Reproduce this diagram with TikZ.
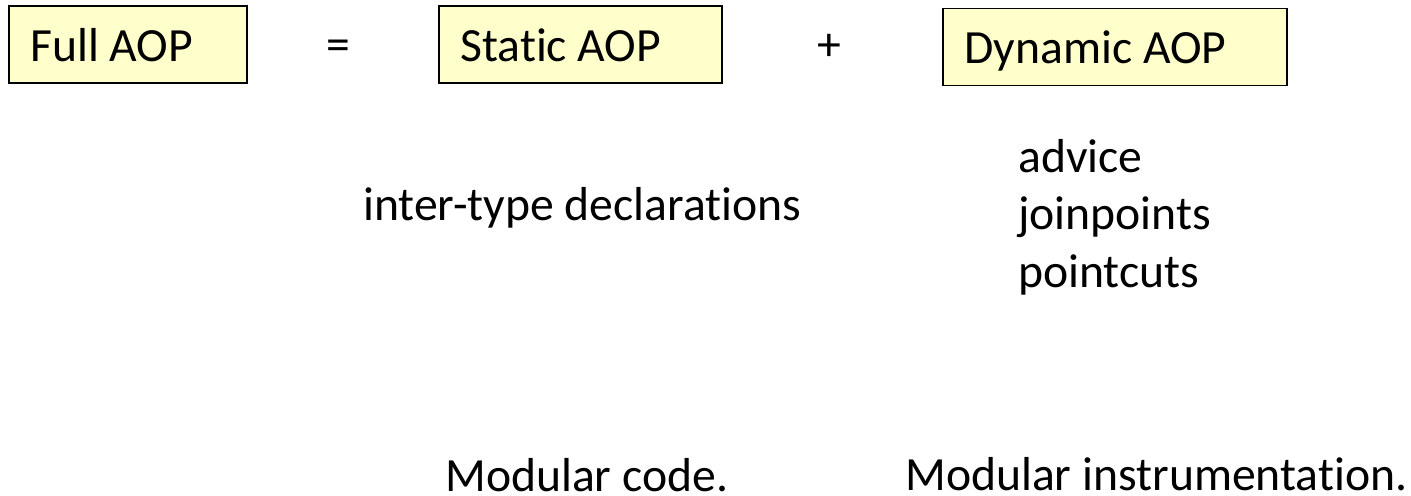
\documentclass[tikz,border=0pt]{standalone}
\usepackage{fontspec}
\setmainfont{Carlito}[Ligatures=NoCommon]
\usetikzlibrary{positioning}
\definecolor{boxyellow}{HTML}{FFFFCC}

\begin{document}
\begin{tikzpicture}[x=1pt,y=1pt,
every node/.style={font=\fontsize{35.75}{43}\selectfont},
aopbox/.style={draw=black,line width=1.2pt,fill=boxyellow,
  text height=27pt,text depth=2pt,minimum height=57.75pt,
  align=flush left,inner xsep=16pt},
plain/.style={inner sep=0pt,anchor=base west}]
\useasboundingbox (0,0) rectangle (1058.25,-372);
% top row
\node[aopbox,text width=146.5pt] (full) at (96,-33.4) {Full AOP};
\node (eq) at (253.5,-38) {=};
\node[aopbox,text width=180.25pt] (static) at (435.4,-33.4) {Static AOP};
\node (plus) at (621.75,-35.5) {+};
\node[aopbox,text width=226pt] (dynamic) at (836.25,-35.25) {Dynamic AOP};
% what each part holds
\node[plain] (itd) at (272.25,-165) {inter-type declarations};
\node[plain,align=flush left] (dyn) at (763.5,-215.25) {advice\\joinpoints\\pointcuts};
% what each part gives
\node[plain] (modcode) at (333.75,-368.5) {Modular code.};
\node[plain] (modinst) at (678.75,-368) {Modular instrumentation.};
\end{tikzpicture}
\end{document}
